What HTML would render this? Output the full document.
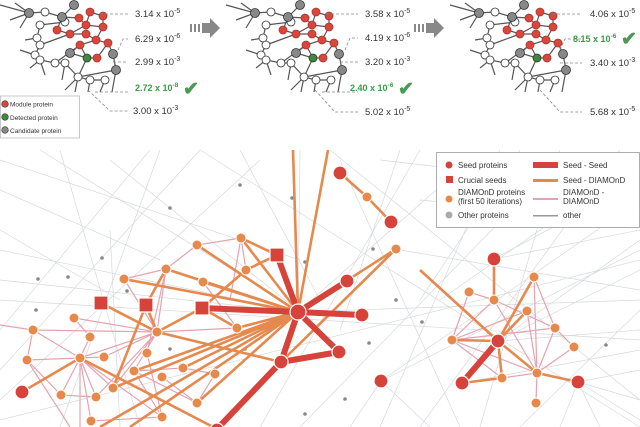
<!DOCTYPE html>
<html><head><meta charset="utf-8"><style>
html,body{margin:0;padding:0;background:#fff;width:640px;height:427px;overflow:hidden}
svg{display:block;font-family:"Liberation Sans",sans-serif}
</style></head><body>
<svg width="640" height="427" viewBox="0 0 640 427" xmlns="http://www.w3.org/2000/svg">
<defs>
<g id="frag">
 <g stroke="#555" stroke-width="1.2" fill="none">
  <path d="M0,5 L29,13 L45,12 L62,17 L79,18 M29,13 L10,20 M29,13 L15,3 M29,13 L20,28 M62,17 L74,5 M62,17 L65,22 L40,25 M62,17 L57,30 L70,34 L86,34 L96,40 L108,43 L113,54 M86,25 L103,27 L103,16 L90,12 L86,25 L70,34 M79,18 L86,25 M103,27 L96,40 L80,45 L70,53 L87,58 L97,58 L108,43 M80,45 L87,58 M40,25 L37,38 L40,45 L35,55 L40,60 L55,63 L65,63 L78,77 L90,80 L105,80 M78,77 L87,58 M78,77 L75,92 M78,77 L65,90 M90,80 L88,92 M105,80 L100,92 M113,54 L116,70 L112,92 M37,38 L25,40 M35,55 L20,50 M40,60 L30,68 M40,45 L70,34 M55,63 L80,45 M78,77 L116,70 M65,63 L62,80 M40,60 L45,75"/>
 </g>
 <g stroke="#333" stroke-width="0.8">
  <g fill="#fff"><circle cx="45" cy="12" r="4"/><circle cx="40" cy="25" r="4"/><circle cx="37" cy="38" r="4"/><circle cx="40" cy="45" r="4"/><circle cx="35" cy="55" r="4"/><circle cx="40" cy="60" r="4"/><circle cx="55" cy="63" r="4"/><circle cx="65" cy="63" r="4"/><circle cx="78" cy="77" r="4"/><circle cx="90" cy="80" r="4"/><circle cx="105" cy="80" r="4"/><circle cx="65" cy="22" r="4"/></g>
  <g fill="#888"><circle cx="29" cy="13" r="4.5"/><circle cx="62" cy="17" r="4.5"/><circle cx="74" cy="5" r="4.5"/><circle cx="113" cy="54" r="4.5"/><circle cx="70" cy="53" r="4.5"/><circle cx="116" cy="70" r="4.5"/></g>
  <g fill="#d9473a" stroke="#a33"><circle cx="90" cy="12" r="4"/><circle cx="103" cy="16" r="4"/><circle cx="79" cy="18" r="4"/><circle cx="86" cy="25" r="4"/><circle cx="103" cy="27" r="4"/><circle cx="57" cy="30" r="4"/><circle cx="70" cy="34" r="4"/><circle cx="86" cy="34" r="4"/><circle cx="96" cy="40" r="4"/><circle cx="80" cy="45" r="4"/><circle cx="108" cy="43" r="4"/><circle cx="97" cy="58" r="4"/></g>
  <circle cx="87" cy="58" r="4" fill="#3d8a3d"/>
 </g>
</g>
</defs>

<use href="#frag" x="0" y="0"/>
<use href="#frag" x="226" y="0"/>
<use href="#frag" x="450" y="0"/>
<g stroke="#888" stroke-width="0.8" stroke-dasharray="3,2" fill="none">
 <path d="M100,14 L128,14 M118,50 L123,39 L128,39 M113,62 L128,62 M95,92 L128,92 M88,90 L110,111 L128,111"/>
 <path d="M326,14 L358,14 M345,50 L350,38 L358,38 M340,62 L358,62 M322,92 L358,92 M315,90 L335,112 L358,112"/>
 <path d="M552,14 L582,14 M560,50 L565,39 L582,39 M560,63 L582,63 M540,90 L560,112 L582,112"/>
</g>
<g font-size="9.5" fill="#333">
 <text x="135" y="17">3.14 x 10<tspan font-size="7" dy="-4">-5</tspan></text>
 <text x="135" y="42">6.29 x 10<tspan font-size="7" dy="-4">-6</tspan></text>
 <text x="135" y="65">2.99 x 10<tspan font-size="7" dy="-4">-3</tspan></text>
 <text x="135" y="91" fill="#3d9a4a" font-weight="bold" font-size="9">2.72 x 10<tspan font-size="6.5" dy="-4">-8</tspan></text>
 <text x="133" y="114">3.00 x 10<tspan font-size="7" dy="-4">-3</tspan></text>
 <text x="365" y="17">3.58 x 10<tspan font-size="7" dy="-4">-5</tspan></text>
 <text x="365" y="41">4.19 x 10<tspan font-size="7" dy="-4">-6</tspan></text>
 <text x="365" y="65">3.20 x 10<tspan font-size="7" dy="-4">-3</tspan></text>
 <text x="350" y="91" fill="#3d9a4a" font-weight="bold" font-size="9">2.40 x 10<tspan font-size="6.5" dy="-4">-6</tspan></text>
 <text x="365" y="115">5.02 x 10<tspan font-size="7" dy="-4">-5</tspan></text>
 <text x="590" y="17">4.06 x 10<tspan font-size="7" dy="-4">-5</tspan></text>
 <text x="573" y="42" fill="#3d9a4a" font-weight="bold" font-size="9">8.15 x 10<tspan font-size="6.5" dy="-4">-6</tspan></text>
 <text x="590" y="66">3.40 x 10<tspan font-size="7" dy="-4">-3</tspan></text>
 <text x="590" y="115">5.68 x 10<tspan font-size="7" dy="-4">-5</tspan></text>
</g>
<g fill="#4a9a55" font-size="19" font-weight="bold"><text x="183" y="95">✔</text><text x="398" y="95">✔</text><text x="621" y="45">✔</text></g>
<g fill="#888">
 <rect x="190" y="24" width="2" height="8"/><rect x="194" y="24" width="2" height="8"/><rect x="198" y="24" width="2" height="8"/><path d="M202,23 L210,23 L210,18 L220,28 L210,38 L210,33 L202,33 Z"/>
 <rect x="414" y="24" width="2" height="8"/><rect x="418" y="24" width="2" height="8"/><rect x="422" y="24" width="2" height="8"/><path d="M426,23 L434,23 L434,18 L444,28 L434,38 L434,33 L426,33 Z"/>
</g>
<rect x="0.5" y="96" width="79" height="42" fill="#fff" stroke="#bbb" stroke-width="0.8"/>
<g stroke="#333" stroke-width="0.6">
 <circle cx="5" cy="104" r="3.3" fill="#d9473a"/><circle cx="5" cy="117" r="3.3" fill="#3d8a3d"/><circle cx="5" cy="130" r="3.3" fill="#888"/>
</g>
<g font-size="6.5" fill="#333"><text x="10" y="106.5">Module protein</text><text x="10" y="120">Detected protein</text><text x="10" y="133">Candidate protein</text></g>

<g stroke="#d6d9dd" stroke-width="0.7" fill="none">
 <path d="M0,250 L300,312 M0,280 L298,312 M40,150 L300,312 M110,160 L300,312 M240,150 L320,300 M300,150 L298,312 M400,150 L340,330 M470,160 L298,312 M640,200 L381,381 M640,250 L381,381 M640,300 L298,312 M640,330 L498,341 M640,370 L578,382 M640,400 L578,382 M640,420 L578,382 M600,427 L578,382 M560,427 L578,382 M430,427 L381,381 M350,427 L381,381 M640,180 L494,259 M640,230 L494,259 M620,150 L420,427 M560,150 L480,427 M520,150 L420,300 M0,330 L150,150 M0,370 L200,150 M0,400 L260,160 M60,427 L160,150 M120,427 L110,230 M0,420 L640,260 M0,300 L640,340 M260,427 L420,150 M300,427 L560,160 M380,427 L500,150 M440,300 L640,160 M400,250 L640,290 M330,150 L640,400 M200,150 L640,427 M520,427 L640,310 M460,427 L340,160 M0,190 L160,260 M60,150 L140,427 M0,230 L120,300 M420,200 L640,220 M0,160 L300,260 M640,240 L498,341 M640,270 L498,341 M640,350 L462,383 M380,160 L640,190"/>
</g>
<g fill="#888"><circle cx="102" cy="258" r="1.8"/><circle cx="68" cy="277" r="1.8"/><circle cx="38" cy="279" r="1.8"/><circle cx="127" cy="291" r="1.8"/><circle cx="36" cy="310" r="1.8"/><circle cx="305" cy="262" r="1.8"/><circle cx="170" cy="349" r="1.8"/><circle cx="245" cy="349" r="1.8"/><circle cx="369" cy="343" r="1.8"/><circle cx="305" cy="414" r="1.8"/><circle cx="345" cy="399" r="1.8"/><circle cx="396" cy="300" r="1.8"/><circle cx="373" cy="249" r="1.8"/><circle cx="393" cy="223" r="1.8"/><circle cx="292" cy="198" r="1.8"/><circle cx="170" cy="208" r="1.8"/><circle cx="240" cy="185" r="1.8"/><circle cx="606" cy="345" r="1.8"/><circle cx="422" cy="322" r="1.8"/></g>

<g stroke="#e6a3ae" stroke-width="1.2" fill="none">
 <path d="M197,245 L241,238 M197,245 L166,269 M166,269 L124,279 M166,269 L203,282 M124,279 L157,332 M74,318 L157,332 M33,330 L157,332 M33,330 L80,358 M33,330 L27,360 M27,360 L80,358 M80,358 L157,332 M80,358 L104,357 M104,357 L157,332 M80,358 L61,395 M80,358 L96,397 M80,358 L113,388 M80,358 L162,417 M80,358 L91,421 M61,395 L96,397 M96,397 L157,332 M113,388 L157,332 M134,371 L183,368 M134,371 L197,403 M134,371 L162,417 M147,353 L162,417 M162,377 L197,403 M183,368 L215,374 M215,374 L197,403 M91,421 L162,417 M241,238 L246,270 M241,238 L230,300 M203,282 L237,328 M157,332 L237,328 M74,318 L90,337 M90,337 L80,358 M396,249 L298,312 M0,325 L33,330 M27,360 L61,395 M27,360 L70,427 M80,358 L80,427 M157,332 L134,371 M166,269 L157,332 M166,269 L147,353"/>
 <path d="M469,292 L494,300 M469,292 L452,340 M494,300 L452,340 M534,277 L555,328 M534,277 L537,373 M527,311 L537,373 M555,328 L574,347 M555,328 L537,373 M574,347 L537,373 M452,340 L537,373 M452,340 L502,378 M452,340 L555,328 M527,311 L452,340 M537,373 L536,403 M502,378 L537,373 M494,300 L537,373 M494,300 L555,328"/>
</g>
<g stroke="#e5894e" stroke-width="2.6" fill="none">
 <path d="M298,312 L241,238 M298,312 L197,245 M298,312 L166,269 M298,312 L124,279 M298,312 L203,282 M298,312 L237,328 M298,312 L134,371 M298,312 L183,368 M298,312 L197,403 M298,312 L113,388 M298,312 L396,249 M298,312 L293,150 M298,312 L328,150 M298,312 L100,427 M298,312 L130,427 M277,255 L241,238 M277,255 L246,270 M202,308 L237,328 M202,308 L157,332 M202,308 L246,270 M146,305 L166,269 M146,305 L157,332 M146,305 L113,388 M101,303 L157,332 M281,362 L157,332 M281,362 L396,249 M22,392 L80,358 M80,358 L217,429 M340,173 L367,197 M367,197 L391,222 M396,249 L281,362"/>
 <path d="M420,270 L498,341 M494,259 L494,300 M498,341 L534,277 M498,341 L527,311 M498,341 L452,340 M498,341 L502,378 M498,341 L537,373 M537,373 L578,382 M462,383 L502,378"/>
</g>
<g stroke="#d6433a" stroke-width="6" fill="none" stroke-linecap="round">
 <path d="M298,312 L347,281 M298,312 L362,315 M298,312 L339,352 M298,312 L281,362 M298,312 L277,255 M298,312 L202,308 M281,362 L339,352 M281,362 L217,429 M498,341 L462,383"/>
</g>
<g fill="#e8894c" stroke="#fff" stroke-width="1">
 <circle cx="241" cy="238" r="5"/><circle cx="197" cy="245" r="5"/><circle cx="166" cy="269" r="5"/><circle cx="124" cy="279" r="5"/><circle cx="203" cy="282" r="5"/><circle cx="246" cy="270" r="5"/><circle cx="74" cy="318" r="5"/><circle cx="33" cy="330" r="5"/><circle cx="157" cy="332" r="5"/><circle cx="237" cy="328" r="5"/><circle cx="90" cy="337" r="5"/><circle cx="27" cy="360" r="5"/><circle cx="80" cy="358" r="5"/><circle cx="104" cy="357" r="5"/><circle cx="147" cy="353" r="5"/><circle cx="134" cy="371" r="5"/><circle cx="162" cy="377" r="5"/><circle cx="183" cy="368" r="5"/><circle cx="215" cy="374" r="5"/><circle cx="113" cy="388" r="5"/><circle cx="61" cy="395" r="5"/><circle cx="96" cy="397" r="5"/><circle cx="197" cy="403" r="5"/><circle cx="162" cy="417" r="5"/><circle cx="91" cy="421" r="5"/><circle cx="396" cy="249" r="5"/><circle cx="367" cy="197" r="5"/>
 <circle cx="534" cy="277" r="5"/><circle cx="469" cy="292" r="5"/><circle cx="494" cy="300" r="5"/><circle cx="527" cy="311" r="5"/><circle cx="555" cy="328" r="5"/><circle cx="452" cy="340" r="5"/><circle cx="574" cy="347" r="5"/><circle cx="537" cy="373" r="5"/><circle cx="502" cy="378" r="5"/><circle cx="536" cy="403" r="5"/>
</g>
<g fill="#d6433a" stroke="#fff" stroke-width="1.2">
 <circle cx="298" cy="312" r="8"/><circle cx="347" cy="281" r="7"/><circle cx="362" cy="315" r="7"/><circle cx="339" cy="352" r="7"/><circle cx="281" cy="362" r="7"/><circle cx="381" cy="381" r="7"/><circle cx="22" cy="392" r="7"/><circle cx="217" cy="430" r="7"/><circle cx="340" cy="173" r="7"/><circle cx="391" cy="222" r="7"/>
 <circle cx="494" cy="259" r="7"/><circle cx="498" cy="341" r="7"/><circle cx="462" cy="383" r="7"/><circle cx="578" cy="382" r="7"/>
 <rect x="270" y="248" width="14" height="14"/><rect x="94" y="296" width="14" height="14"/><rect x="139" y="298" width="14" height="14"/><rect x="195" y="301" width="14" height="14"/>
</g>

<rect x="436.5" y="152.5" width="203" height="75" fill="#fff" stroke="#999" stroke-width="0.8"/>
<g font-size="8" fill="#333">
 <circle cx="449" cy="165" r="3.5" fill="#d6433a"/><text x="458" y="168">Seed proteins</text>
 <rect x="446" y="176" width="7" height="7" fill="#d6433a"/><text x="458" y="183">Crucial seeds</text>
 <circle cx="449" cy="199" r="3.5" fill="#e8894c"/><text x="458" y="195">DIAMOnD proteins</text><text x="458" y="204">(first 50 iterations)</text>
 <circle cx="449" cy="215" r="3.5" fill="#aaa"/><text x="458" y="218">Other proteins</text>
 <rect x="533" y="162" width="25" height="6" fill="#d6433a"/><text x="563" y="168">Seed - Seed</text>
 <rect x="533" y="179" width="25" height="3" fill="#e5894e"/><text x="563" y="183">Seed - DIAMOnD</text>
 <rect x="533" y="198" width="25" height="2" fill="#e6a3ae"/><text x="563" y="195">DIAMOnD -</text><text x="563" y="204">DIAMOnD</text>
 <rect x="533" y="215" width="25" height="1.5" fill="#999"/><text x="563" y="218">other</text>
</g>
</svg>
</body></html>
